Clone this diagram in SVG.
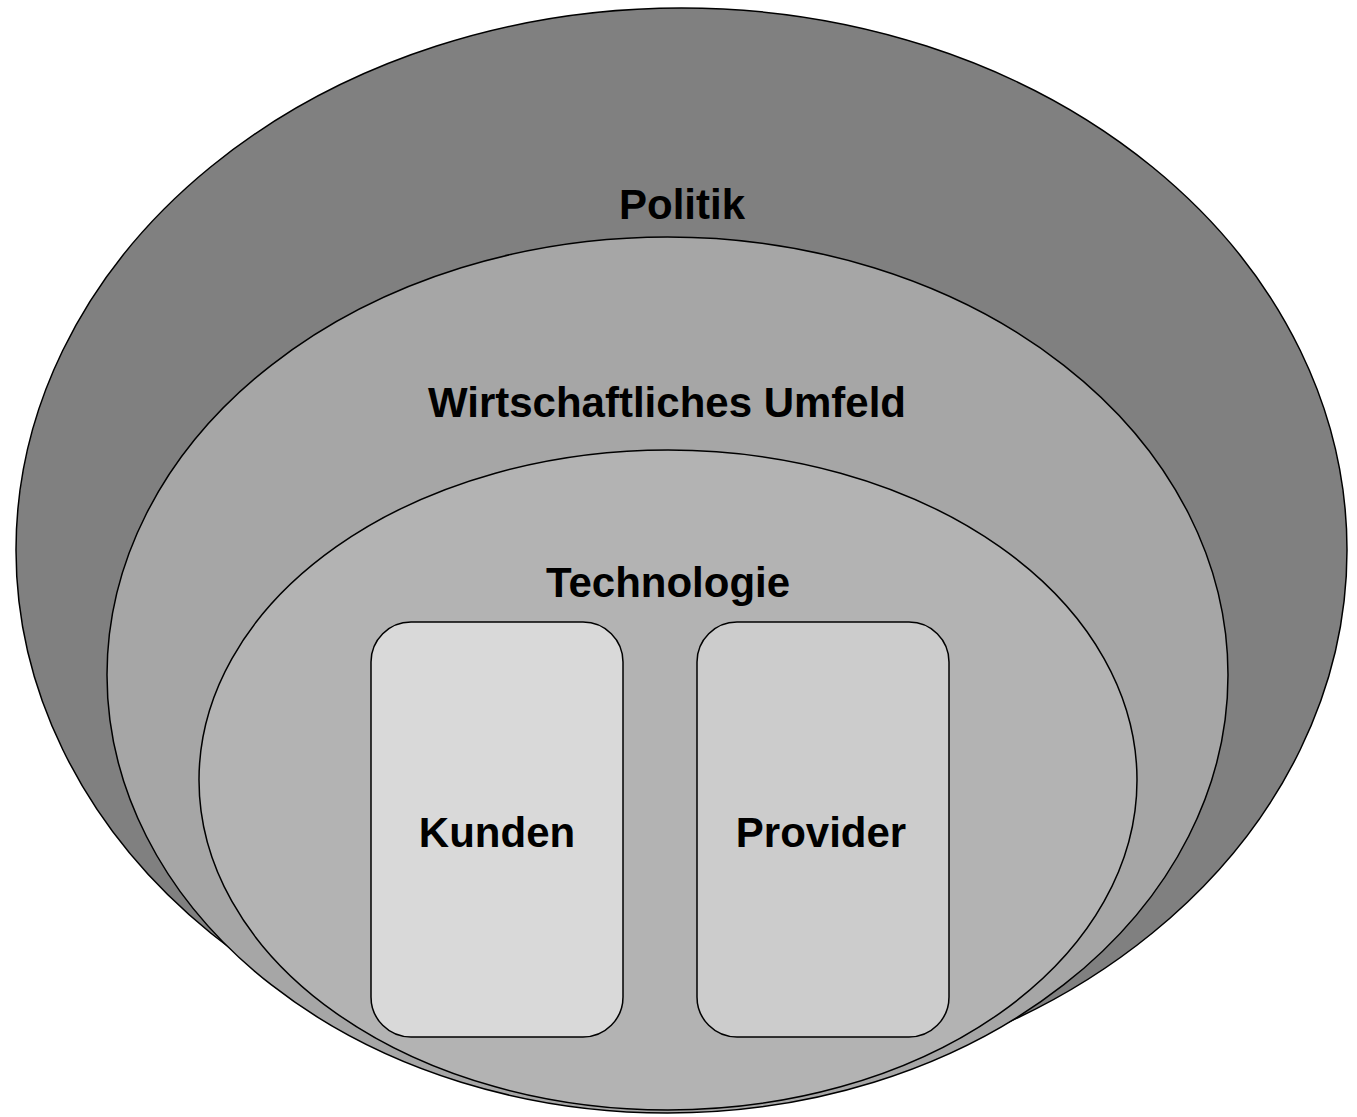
<svg xmlns="http://www.w3.org/2000/svg" width="1357" height="1117" viewBox="0 0 1357 1117">
<style>
.shape{stroke:#000;stroke-width:1.5}
.lbl{font-family:"Liberation Sans",Arial,sans-serif;font-weight:bold;font-size:42px;fill:#000;text-anchor:middle}
</style>
<rect width="1357" height="1117" fill="#fff"/>
<g id="politik">
<ellipse class="shape" cx="681.5" cy="550" rx="665.5" ry="542" fill="#808080"/>
<text class="lbl" x="682" y="219">Politik</text>
</g>
<g id="wirtschaft">
<ellipse class="shape" cx="667.5" cy="675" rx="560.5" ry="438" fill="#a6a6a6"/>
<text class="lbl" x="667" y="417">Wirtschaftliches Umfeld</text>
</g>
<g id="technologie">
<ellipse class="shape" cx="668" cy="780" rx="469" ry="330" fill="#b3b3b3"/>
<text class="lbl" x="668" y="597">Technologie</text>
</g>
<g id="kunden">
<rect class="shape" x="371" y="622" width="252" height="415" rx="40" ry="40" fill="#d9d9d9"/>
<text class="lbl" x="497" y="847">Kunden</text>
</g>
<g id="provider">
<rect class="shape" x="697" y="622" width="252" height="415" rx="40" ry="40" fill="#cccccc"/>
<text class="lbl" x="821" y="847">Provider</text>
</g>
<g id="connectors"></g>
</svg>
